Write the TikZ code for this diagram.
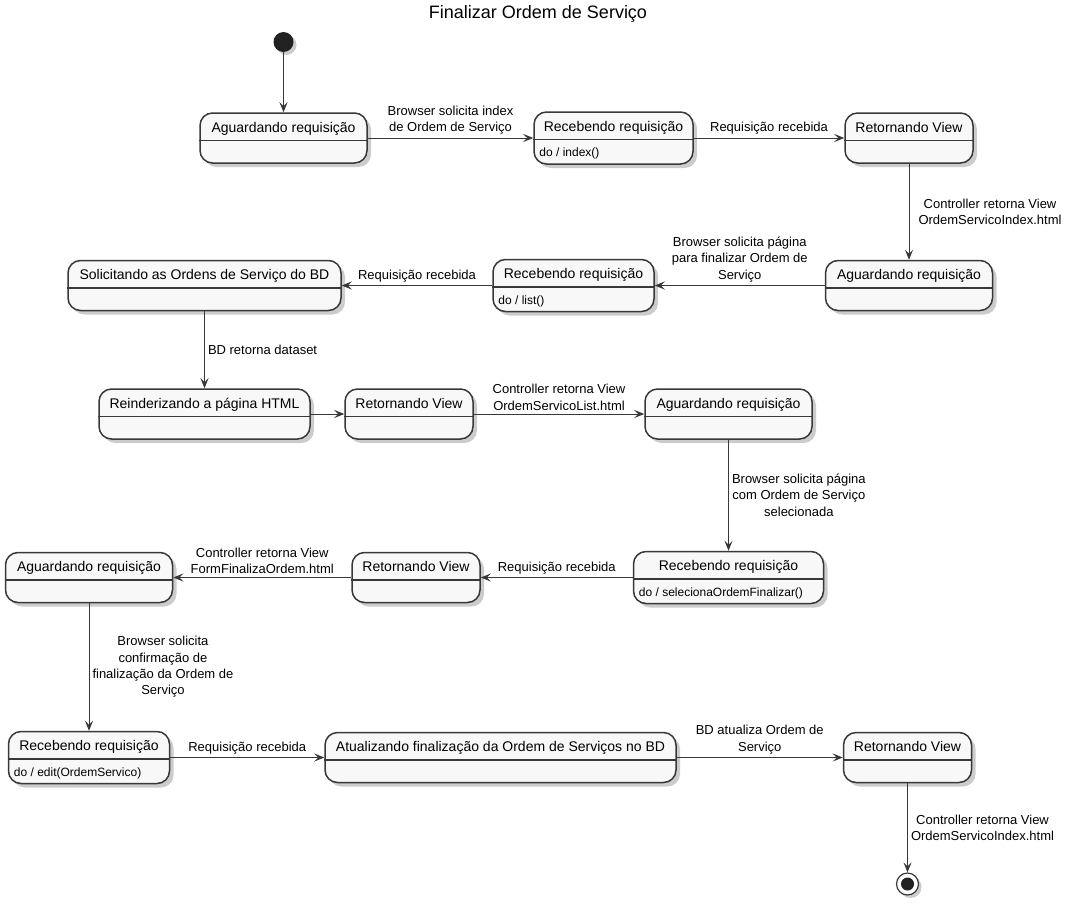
\documentclass[tikz,border=0pt]{standalone}
\usepackage{fontspec}
\setmainfont{Liberation Sans}
\usetikzlibrary{positioning,arrows.meta,shadows}
\definecolor{linec}{HTML}{383838}
\definecolor{boxc}{HTML}{F8F8F8}
\newcommand{\statefont}{\fontsize{14}{16}\selectfont}
\newcommand{\lblfont}{\fontsize{13}{16.4}\selectfont}
\newcommand{\dofont}{\fontsize{12}{14}\selectfont}
\newcommand{\titlefont}{\fontsize{18}{21}\selectfont}

\begin{document}
\begin{tikzpicture}[x=1pt, y=-1pt,
  state/.style={draw=linec, fill=boxc, line width=1.5pt, rounded corners=12.5pt, inner sep=0pt,
    text height=19pt, text depth=31pt, font=\statefont,
    drop shadow={shadow xshift=4pt, shadow yshift=-4pt, fill=black, opacity=0.2}},
  statedo/.style={state, text depth=33pt},
  startdot/.style={circle, fill=black!87, minimum size=20pt, inner sep=0pt,
    drop shadow={shadow xshift=3pt, shadow yshift=-3pt, fill=black, opacity=0.2}},
  enddot/.style={circle, draw=linec, fill=white, line width=1.2pt, minimum size=22pt, inner sep=0pt,
    drop shadow={shadow xshift=3pt, shadow yshift=-3pt, fill=black, opacity=0.2}},
  sepline/.style={draw=linec, line width=1.5pt},
  dotext/.style={font=\dofont, inner sep=0pt, anchor=west},
  trans/.style={draw=linec, line width=1pt, -{Stealth[length=10pt, width=8pt, inset=4pt]}},
  lbl/.style={font=\lblfont, align=center, inner sep=3pt}
]
\useasboundingbox (0,0) rectangle (1067,907);

\node[font=\titlefont] (titulo) at (538,14) {Finalizar Ordem de Serviço};

% estados
\node[startdot] (inicio) at (283.5,42) {};
\node[state, minimum width=167pt] (aguarda1) at (283.5,138) {Aguardando requisição};
\node[statedo, minimum width=159pt] (receb1) at (613.5,138) {Recebendo requisição};
\node[state, minimum width=128pt] (retorna1) at (909,138) {Retornando View};
\node[state, minimum width=167pt] (aguarda2) at (909,285.5) {Aguardando requisição};
\node[statedo, minimum width=161pt] (receb2) at (573.5,285.5) {Recebendo requisição};
\node[state, minimum width=273pt] (solicita) at (204.5,285.5) {Solicitando as Ordens de Serviço do BD};
\node[state, minimum width=211pt] (reinder) at (204.5,414) {Reinderizando a página HTML};
\node[state, minimum width=128pt] (retorna2) at (409,414) {Retornando View};
\node[state, minimum width=167pt] (aguarda3) at (728.5,414) {Aguardando requisição};
\node[statedo, minimum width=190pt] (receb3) at (728.5,577.5) {Recebendo requisição};
\node[state, minimum width=128pt] (retorna3) at (416,577.5) {Retornando View};
\node[state, minimum width=167pt] (aguarda4) at (89,577.5) {Aguardando requisição};
\node[statedo, minimum width=161pt] (receb4) at (89,757.5) {Recebendo requisição};
\node[state, minimum width=351pt] (atualiza) at (500.5,757.5) {Atualizando finalização da Ordem de Serviços no BD};
\node[state, minimum width=128pt] (retorna4) at (907.5,757.5) {Retornando View};
\node[enddot] (fim) at (907.5,884) {};
\node[circle, fill=black!87, minimum size=13pt, inner sep=0pt] (fimin) at (fim.center) {};

\foreach \n in {aguarda1,receb1,retorna1,aguarda2,receb2,solicita,reinder,retorna2,
                aguarda3,receb3,retorna3,aguarda4,receb4,atualiza,retorna4}
  \draw[sepline] ([yshift=-28pt]\n.north west) -- ([yshift=-28pt]\n.north east);

\node[dotext] (receb1do) at ([xshift=6pt, yshift=11pt]receb1.south west) {do / index()};
\node[dotext] (receb2do) at ([xshift=6pt, yshift=11pt]receb2.south west) {do / list()};
\node[dotext] (receb3do) at ([xshift=6pt, yshift=11pt]receb3.south west) {do / selecionaOrdemFinalizar()};
\node[dotext] (receb4do) at ([xshift=6pt, yshift=11pt]receb4.south west) {do / edit(OrdemServico)};

% transicoes
\draw[trans] (inicio) -- (aguarda1);
\draw[trans] (aguarda1) -- node[lbl, above] (l1) {Browser solicita index\\de Ordem de Serviço} (receb1);
\draw[trans] (receb1) -- node[lbl, above] (l2) {Requisição recebida} (retorna1);
\draw[trans] (retorna1) -- node[lbl, right, xshift=6pt] (l3) {Controller retorna View\\OrdemServicoIndex.html} (aguarda2);
\draw[trans] (aguarda2) -- node[lbl, above] (l4) {Browser solicita página\\para finalizar Ordem de\\Serviço} (receb2);
\draw[trans] (receb2) -- node[lbl, above] (l5) {Requisição recebida} (solicita);
\draw[trans] (solicita) -- node[lbl, right] (l6) {BD retorna dataset} (reinder);
\draw[trans] (reinder) -- (retorna2);
\draw[trans] (retorna2) -- node[lbl, above] (l7) {Controller retorna View\\OrdemServicoList.html} (aguarda3);
\draw[trans] (aguarda3) -- node[lbl, right] (l8) {Browser solicita página\\com Ordem de Serviço\\selecionada} (receb3);
\draw[trans] (receb3) -- node[lbl, above] (l9) {Requisição recebida} (retorna3);
\draw[trans] (retorna3) -- node[lbl, above] (l10) {Controller retorna View\\FormFinalizaOrdem.html} (aguarda4);
\draw[trans] (aguarda4) -- node[lbl, right] (l11) {Browser solicita\\confirmação de\\finalização da Ordem de\\Serviço} (receb4);
\draw[trans] (receb4) -- node[lbl, above] (l12) {Requisição recebida} (atualiza);
\draw[trans] (atualiza) -- node[lbl, above] (l13) {BD atualiza Ordem de\\Serviço} (retorna4);
\draw[trans] (retorna4) -- node[lbl, right] (l14) {Controller retorna View\\OrdemServicoIndex.html} (fim);
\end{tikzpicture}
\end{document}
